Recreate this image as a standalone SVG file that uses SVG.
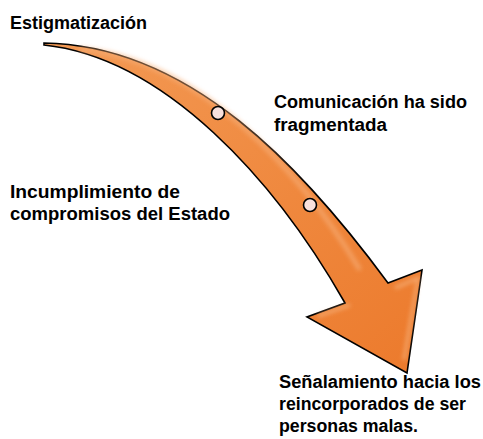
<svg xmlns="http://www.w3.org/2000/svg" width="483" height="439" viewBox="0 0 483 439">
<style>
.t{font-family:"Liberation Sans",Arial,sans-serif;font-weight:bold;font-size:18px;fill:#000}
.dot{fill:#F8E0DC;stroke:#000;stroke-width:1.6}
</style>
<defs>
<linearGradient id="g" x1="0" y1="0" x2="1" y2="1">
<stop offset="0" stop-color="#F39A55"/>
<stop offset="1" stop-color="#EC7A2C"/>
</linearGradient>
<filter id="b" x="-10%" y="-10%" width="120%" height="120%"><feGaussianBlur stdDeviation="2"/></filter>
</defs>
<rect width="483" height="439" fill="#fff"/>
<g id="arrow">
<path d="M44,43 C190,45 304,169 388,283 L422,270 L407,373 L307,317 L345,303 C275,180 165,58 44,45 Z" fill="url(#g)" stroke="#000" stroke-width="1.6" stroke-linejoin="miter"/>
<path d="M80,49 C200,60 300,170 360,270" fill="none" stroke="#F7B07A" stroke-width="5" opacity="0.6" filter="url(#b)"/>
<path d="M318,316 L350,305 M395,288 L418,278 L404,360" fill="none" stroke="#F8B986" stroke-width="3" opacity="0.7" filter="url(#b)"/>
</g>
<g id="dots">
<circle class="dot" cx="218" cy="113" r="6.5"/>
<circle class="dot" cx="310" cy="205" r="6.5"/>
</g>
<g id="label-estigmatizacion"><text class="t" x="10" y="29" textLength="137" lengthAdjust="spacingAndGlyphs">Estigmatización</text></g>
<g id="label-comunicacion">
<text class="t" x="274" y="108" textLength="193" lengthAdjust="spacingAndGlyphs">Comunicación ha sido</text>
<text class="t" x="274" y="131" textLength="113" lengthAdjust="spacingAndGlyphs">fragmentada</text>
</g>
<g id="label-incumplimiento">
<text class="t" x="10" y="198" textLength="170" lengthAdjust="spacingAndGlyphs">Incumplimiento de</text>
<text class="t" x="10" y="220" textLength="220" lengthAdjust="spacingAndGlyphs">compromisos del Estado</text>
</g>
<g id="label-senalamiento">
<text class="t" x="279" y="388" textLength="202" lengthAdjust="spacingAndGlyphs">Señalamiento hacia los</text>
<text class="t" x="279" y="410" textLength="187" lengthAdjust="spacingAndGlyphs">reincorporados de ser</text>
<text class="t" x="279" y="432" textLength="139" lengthAdjust="spacingAndGlyphs">personas malas.</text>
</g>
</svg>
